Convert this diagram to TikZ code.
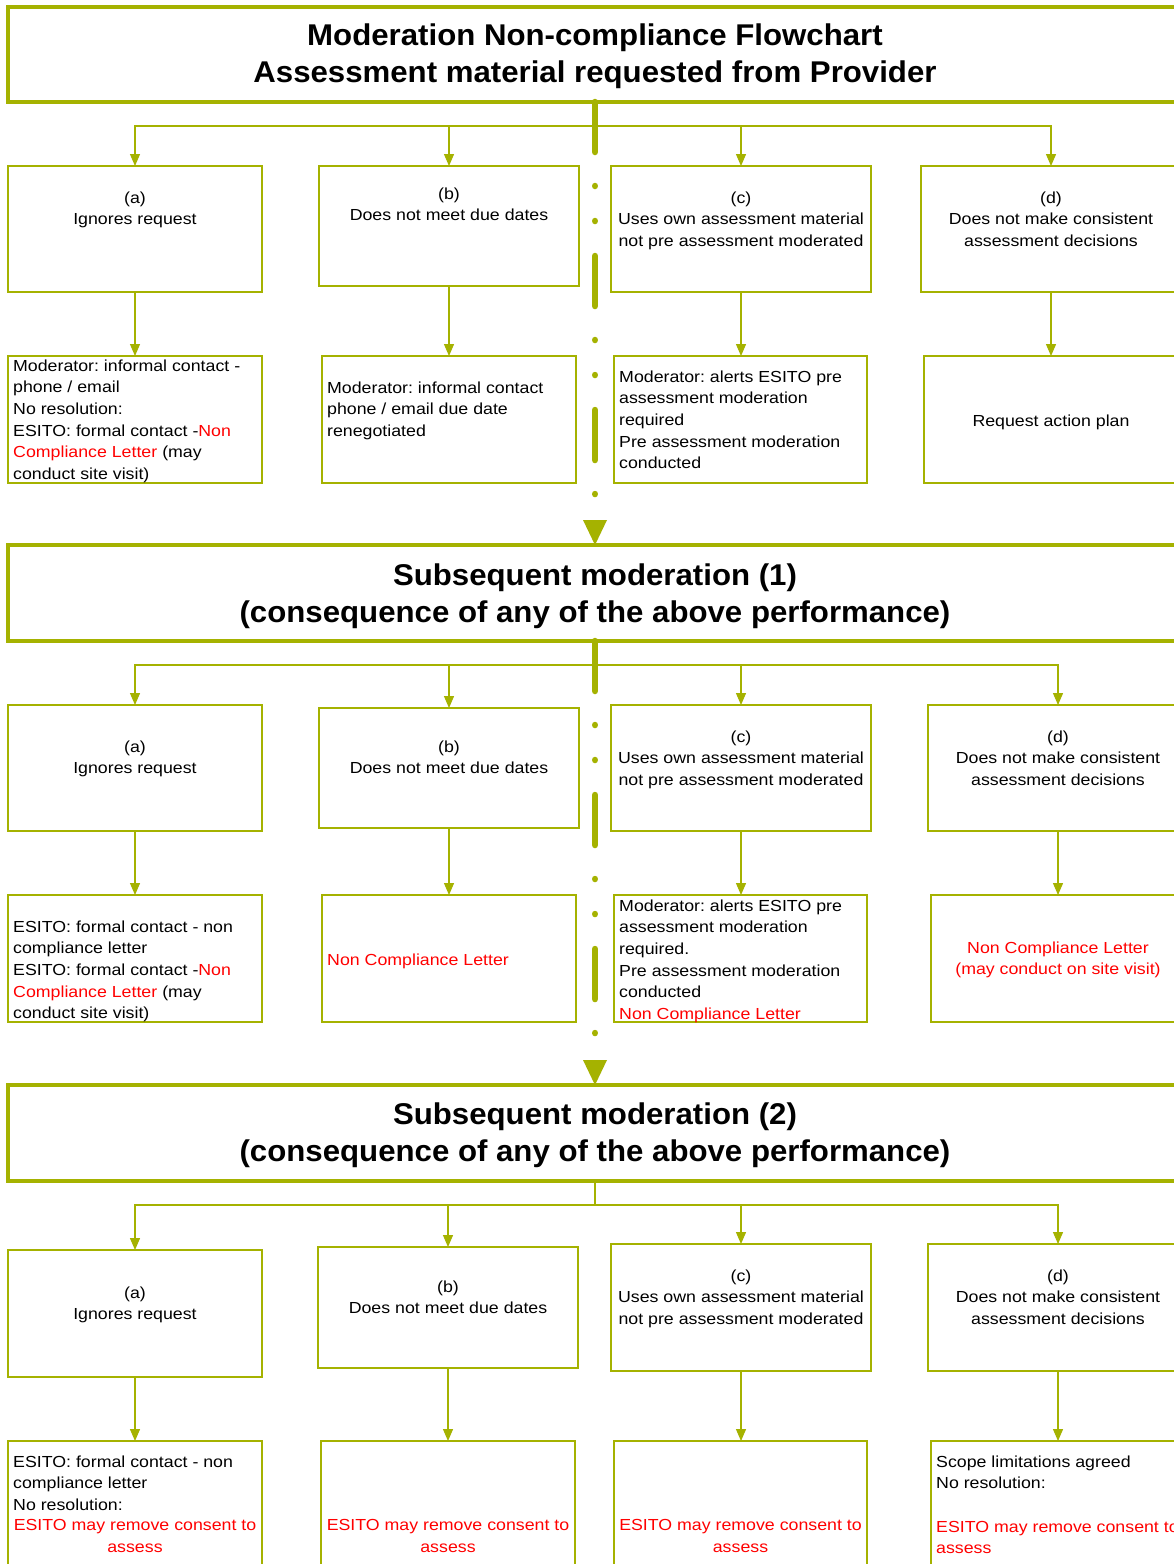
\documentclass[tikz,border=0pt]{standalone}
\usepackage{fontspec}
\setmainfont{Liberation Sans}
\newfontfamily\bodyfont{Liberation Sans}[FakeStretch=1.11]
\newfontfamily\titlefont{Liberation Sans}[FakeStretch=1.04]
\usetikzlibrary{arrows.meta,fit}
\definecolor{olv}{RGB}{165,178,0}
\definecolor{alarm}{RGB}{255,0,0}
\newcommand\warn[1]{\textcolor{alarm}{#1}}
\frenchspacing

\tikzset{
  box/.style={draw=olv, line width=1.2pt, rectangle, inner sep=0pt, outer sep=0pt},
  header/.style={draw=olv, line width=3.5pt, rectangle, inner sep=0pt, outer sep=0pt},
  title/.style={font=\titlefont\fontsize{30}{37}\selectfont\bfseries, align=center, inner sep=0pt,
    anchor=north, execute at begin node=\rule{0pt}{24pt}},
  ctext/.style={font=\bodyfont\fontsize{16}{21.6}\selectfont, align=center, inner sep=0pt,
    anchor=north, yshift=-1.5pt, execute at begin node=\rule{0pt}{13pt}},
  ltext/.style={font=\bodyfont\fontsize{16}{21.6}\selectfont, align=left, inner sep=0pt,
    anchor=north west, yshift=-1.5pt, execute at begin node=\rule{0pt}{13pt}},
  conn/.style={draw=olv, line width=1.3pt},
  arr/.style={conn, -{Triangle[length=12pt,width=10pt]}},
  spine/.style={draw=olv, line width=6.5pt, line cap=round,
    dash pattern=on 50pt off 34pt on 0.01pt off 35pt on 0.01pt off 35pt,
    -{Triangle[length=25pt,width=24pt,line width=0pt]}}
}

\begin{document}
\begin{tikzpicture}[x=1pt,y=-1pt]
\useasboundingbox (0,0) rectangle (1174,1564);
\fill[white] (0,0) rectangle (1174,1564);
\clip (0,0) rectangle (1174,1564);

% ---------- first stage: assessment material requested ----------
\node[header, fit={(8,7) (1182,102)}] (h1) {};
\node[title] (h1t) at (595,24) {Moderation Non-compliance Flowchart\\Assessment material requested from Provider};

\node[box, fit={(8,166) (262,292)}] (a1) {};
\node[box, fit={(319,166) (579,286)}] (b1) {};
\node[box, fit={(611,166) (871,292)}] (c1) {};
\node[box, fit={(921,166) (1181,292)}] (d1) {};
\node[box, fit={(8,356) (262,483)}] (a2) {};
\node[box, fit={(322,356) (576,483)}] (b2) {};
\node[box, fit={(614,356) (867,483)}] (c2) {};
\node[box, fit={(924,356) (1178,483)}] (d2) {};

\node[ctext] (a1t) at (135,190) {(a)\\Ignores request};
\node[ctext] (b1t) at (449,186) {(b)\\Does not meet due dates};
\node[ctext] (c1t) at (741,190) {(c)\\Uses own assessment material\\not pre assessment moderated};
\node[ctext] (d1t) at (1051,190) {(d)\\Does not make consistent\\assessment decisions};
\node[ltext] (a2t) at (13,358) {Moderator: informal contact -\\phone / email\\No resolution:\\ESITO: formal contact -\warn{Non}\\\warn{Compliance Letter} (may\\conduct site visit)};
\node[ltext] (b2t) at (327,380) {Moderator: informal contact\\phone / email due date\\renegotiated};
\node[ltext] (c2t) at (619,369) {Moderator: alerts ESITO pre\\assessment moderation\\required\\Pre assessment moderation\\conducted};
\node[ctext] (d2t) at (1051,412) {Request action plan};

\coordinate (s1) at (595,126);
\draw[conn] (h1.south) -- (s1);
\foreach \n in {a1,b1,c1,d1} \draw[arr] (s1) -| (\n.north);
\draw[arr] (a1.south) -- (a1.south |- a2.north);
\draw[arr] (b1.south) -- (b1.south |- b2.north);
\draw[arr] (c1.south) -- (c1.south |- c2.north);
\draw[arr] (d1.south) -- (d1.south |- d2.north);

% ---------- second stage: subsequent moderation (1) ----------
\node[header, fit={(8,545) (1182,641)}] (h2) {};
\node[title] (h2t) at (595,564) {Subsequent moderation (1)\\(consequence of any of the above performance)};

\draw[spine] (h1.south) -- (h2.north);

\node[box, fit={(8,705) (262,831)}] (a3) {};
\node[box, fit={(319,708) (579,828)}] (b3) {};
\node[box, fit={(611,705) (871,831)}] (c3) {};
\node[box, fit={(928,705) (1188,831)}] (d3) {};
\node[box, fit={(8,895) (262,1022)}] (a4) {};
\node[box, fit={(322,895) (576,1022)}] (b4) {};
\node[box, fit={(614,895) (867,1022)}] (c4) {};
\node[box, fit={(931,895) (1185,1022)}] (d4) {};

\node[ctext] (a3t) at (135,739) {(a)\\Ignores request};
\node[ctext] (b3t) at (449,739) {(b)\\Does not meet due dates};
\node[ctext] (c3t) at (741,729) {(c)\\Uses own assessment material\\not pre assessment moderated};
\node[ctext] (d3t) at (1058,729) {(d)\\Does not make consistent\\assessment decisions};
\node[ltext] (a4t) at (13,919) {ESITO: formal contact - non\\compliance letter\\ESITO: formal contact -\warn{Non}\\\warn{Compliance Letter} (may\\conduct site visit)};
\node[ltext, text=alarm] (b4t) at (327,951) {Non Compliance Letter};
\node[ltext] (c4t) at (619,898) {Moderator: alerts ESITO pre\\assessment moderation\\required.\\Pre assessment moderation\\conducted\\\warn{Non Compliance Letter}};
\node[ctext, text=alarm] (d4t) at (1058,940) {Non Compliance Letter\\(may conduct on site visit)};

\coordinate (s2) at (595,665);
\draw[conn] (h2.south) -- (s2);
\foreach \n in {a3,b3,c3,d3} \draw[arr] (s2) -| (\n.north);
\draw[arr] (a3.south) -- (a3.south |- a4.north);
\draw[arr] (b3.south) -- (b3.south |- b4.north);
\draw[arr] (c3.south) -- (c3.south |- c4.north);
\draw[arr] (d3.south) -- (d3.south |- d4.north);

% ---------- third stage: subsequent moderation (2) ----------
\node[header, fit={(8,1085) (1182,1181)}] (h3) {};
\node[title] (h3t) at (595,1103) {Subsequent moderation (2)\\(consequence of any of the above performance)};

\draw[spine] (h2.south) -- (h3.north);

\node[box, fit={(8,1250) (262,1377)}] (a5) {};
\node[box, fit={(318,1247) (578,1368)}] (b5) {};
\node[box, fit={(611,1244) (871,1371)}] (c5) {};
\node[box, fit={(928,1244) (1188,1371)}] (d5) {};
\node[box, fit={(8,1441) (262,1580)}] (a6) {};
\node[box, fit={(321,1441) (575,1580)}] (b6) {};
\node[box, fit={(614,1441) (867,1580)}] (c6) {};
\node[box, fit={(931,1441) (1185,1580)}] (d6) {};

\node[ctext] (a5t) at (135,1285) {(a)\\Ignores request};
\node[ctext] (b5t) at (448,1279) {(b)\\Does not meet due dates};
\node[ctext] (c5t) at (741,1268) {(c)\\Uses own assessment material\\not pre assessment moderated};
\node[ctext] (d5t) at (1058,1268) {(d)\\Does not make consistent\\assessment decisions};
\node[ltext] (a6t) at (13,1454) {ESITO: formal contact - non\\compliance letter\\No resolution:};
\node[ctext, text=alarm] (a6r) at (135,1518) {ESITO may remove consent to\\assess};
\node[ctext, text=alarm] (b6r) at (448,1518) {ESITO may remove consent to\\assess};
\node[ctext, text=alarm] (c6r) at (740.5,1518) {ESITO may remove consent to\\assess};
\node[ltext] (d6t) at (936,1454) {Scope limitations agreed\\No resolution:\\[21.6pt]\warn{ESITO may remove consent to}\\\warn{assess}};

\coordinate (s3) at (595,1205);
\draw[conn] (h3.south) -- (s3);
\foreach \n in {a5,b5,c5,d5} \draw[arr] (s3) -| (\n.north);
\draw[arr] (a5.south) -- (a5.south |- a6.north);
\draw[arr] (b5.south) -- (b5.south |- b6.north);
\draw[arr] (c5.south) -- (c5.south |- c6.north);
\draw[arr] (d5.south) -- (d5.south |- d6.north);
\end{tikzpicture}
\end{document}
